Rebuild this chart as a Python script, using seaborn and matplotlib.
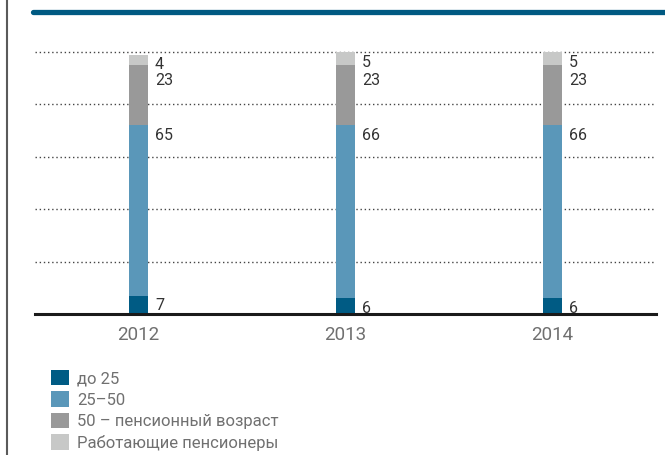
import matplotlib
matplotlib.use("Agg")
import matplotlib.pyplot as plt
import seaborn as sns
import pandas as pd
import numpy as np
from matplotlib.patches import Patch
from matplotlib.lines import Line2D

years = ["2012", "2013", "2014"]
under25 = [7, 6, 6]
age25_50 = [65, 66, 66]
age50_pension = [23, 23, 23]
working_pensioners = [4, 5, 5]
series_names = ["до 25", "25–50", "50 – пенсионный возраст", "Работающие пенсионеры"]
colors = ["#005B84", "#5A97B9", "#999999", "#C7C8C7"]

sns.set_theme(style="white")
plt.rcParams["font.family"] = ["Roboto", "DejaVu Sans"]

fig = plt.figure(figsize=(6.65, 4.55), dpi=100)
ax = fig.add_axes([35/665, 1 - 314/455, (656-35)/665, (314-12)/455])

series = [under25, age25_50, age50_pension, working_pensioners]
cum = np.cumsum(np.array(series), axis=0)
df = pd.DataFrame({"year": years})
for k in range(4):
    df[f"c{k}"] = cum[k]

width = 0.092
for k in range(3, -1, -1):
    sns.barplot(data=df, x="year", y=f"c{k}", color=colors[k], width=width,
                saturation=1, ax=ax, order=years, linewidth=0)

# value labels at the top of each segment
offsets = [-2, -2, -5.5, -2]
for k in range(4):
    for i, y in enumerate(years):
        ax.annotate(str(series[k][i]), xy=(i + width/2, cum[k][i]),
                    xytext=(5, offsets[k]), textcoords="offset points",
                    ha="left", va="top", fontsize=11.5, color="#333333")

ax.set_ylim(0, 115.3)
ax.set_xlim(-0.5, 2.5)
ax.set_yticks([])
ax.set_xlabel("")
ax.set_ylabel("")
for yv in [20, 40, 60, 80, 100]:
    ax.axhline(yv, color="#444444", lw=1, ls=(0, (1, 2)), zorder=0)
for s in ["top", "right", "left"]:
    ax.spines[s].set_visible(False)
ax.spines["bottom"].set_color("#1a1a1a")
ax.spines["bottom"].set_linewidth(2.2)
ax.tick_params(axis="x", length=0, pad=8.5, labelsize=13.5, labelcolor="#707070")

# decorative lines
fig.add_artist(Line2D([33/665, 1], [1 - 12/455, 1 - 12/455], color="#005A82", lw=3.8,
                      transform=fig.transFigure))
fig.add_artist(Line2D([7/665, 7/665], [0, 1], color="#5a5a5a", lw=1.5,
                      transform=fig.transFigure))

handles = [Patch(facecolor=c, edgecolor="none") for c in colors]
leg = fig.legend(handles, series_names, loc="upper left",
                 bbox_to_anchor=(51/665, 1 - 370/455), frameon=False,
                 fontsize=12, handlelength=1.05, handleheight=1.05,
                 handletextpad=0.5, labelspacing=0.3, borderpad=0, borderaxespad=0)
for t in leg.get_texts():
    t.set_color("#707070")

fig.savefig("out.png", dpi=100)
